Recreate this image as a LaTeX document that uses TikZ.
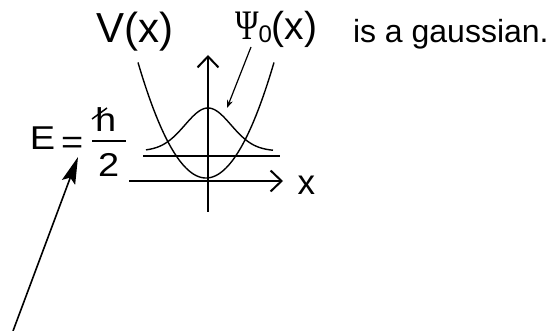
\documentclass[tikz,border=0pt]{standalone}
\usepackage{fontspec}
\setmainfont{Liberation Sans}
\newfontfamily\greekserif{Liberation Serif}
\usetikzlibrary{arrows.meta}
\tikzset{
  lbl/.style={inner sep=0pt, outer sep=0pt, anchor=base west},
  axis/.style={line width=2pt, -{Straight Barb[length=11pt,width=21pt,line width=2pt]}},
  curve/.style={line width=1.4pt},
}
\newcommand{\bigfs}{\fontsize{42}{46}\selectfont}
\newcommand{\efs}[1]{\scalebox{1.15}[1]{\fontsize{33}{37}\selectfont #1}}
\begin{document}
\begin{tikzpicture}[x=1pt,y=-1pt]
\useasboundingbox (0,0) rectangle (552,331);
% labels
\node[lbl] (V) at (96,43) {\bigfs V(x)};
\node[lbl] (Psi) at (235,40) {\scalebox{0.76}[1]{\fontsize{42}{46}\greekserif Ψ}\raisebox{-3pt}{\fontsize{24}{27}\selectfont 0}{\fontsize{39}{43}\selectfont (x)}};
\node[lbl] (gauss) at (353,43) {\fontsize{32}{36}\selectfont is a gaussian.};
\node[lbl] (E) at (30,150) {\efs{E}};
\node[lbl] (eq) at (61,154) {\efs{=}};
\node[lbl] (h) at (95,132) {\efs{h}};
\node[lbl] (two) at (98,177) {\efs{2}};
\node[lbl] (xl) at (297.5,195) {\fontsize{35}{39}\selectfont x};
\coordinate (hs1) at (92,119);
\coordinate (hs2) at (107,108);
\draw[line width=1.5pt] (hs1) -- (hs2);
\coordinate (fb1) at (92,141);
\coordinate (fb2) at (126,141);
\draw[line width=1.7pt] (fb1) -- (fb2);
% axes
\coordinate (yb) at (208,212);
\coordinate (yt) at (208,55);
\coordinate (xb) at (129,181);
\coordinate (xt) at (283,181);
\draw[axis] (yb) -- (yt);
\draw[axis] (xb) -- (xt);
% energy level
\coordinate (el) at (143,156);
\coordinate (er) at (280,156);
\draw[line width=2pt] (el) -- (er);
% parabola
\draw[curve] plot[domain=-68:68, samples=120] ({206+\x},{178-0.025*(\x)^2});
% gaussian
\draw[curve] plot[domain=-62:65, samples=120] ({208+\x},{151-43*exp(-(\x)^2/1058)});
% psi arrow
\coordinate (pa) at (251,47);
\coordinate (pb) at (227,108);
\draw[line width=1.2pt, -{Stealth[length=8pt,width=6pt]}] (pa) -- (pb);
% E arrow
\coordinate (ea) at (13,331);
\coordinate (eb) at (78,157);
\draw[line width=1.6pt, -{Stealth[length=27pt,width=14pt,inset=5pt]}] (ea) -- (eb);
\end{tikzpicture}
\end{document}
